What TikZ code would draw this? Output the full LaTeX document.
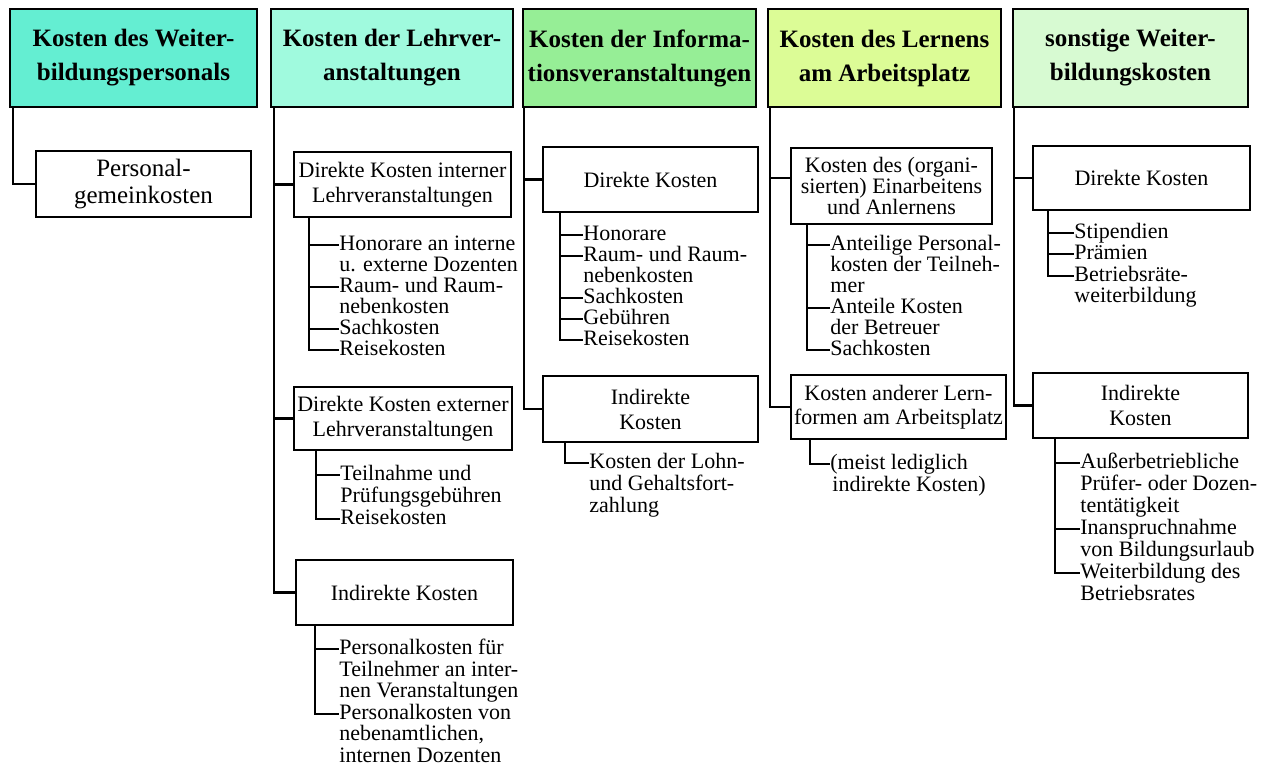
\documentclass[tikz,border=0pt]{standalone}
\usepackage{fontspec}
\setmainfont{Liberation Serif}
\definecolor{hOne}{RGB}{100,238,210}
\definecolor{hTwo}{RGB}{160,250,222}
\definecolor{hThree}{RGB}{150,238,150}
\definecolor{hFour}{RGB}{220,252,150}
\definecolor{hFive}{RGB}{215,250,210}
\newcommand\hdrfont{\fontsize{12.5}{17}\selectfont\bfseries}
\newcommand\boxfont{\fontsize{11}{12.5}\selectfont}
\newcommand\boxfontb{\fontsize{11}{10.5}\selectfont}
\newcommand\itmfont{\fontsize{11}{11}\selectfont}
\newcommand\pfont{\fontsize{12.5}{13.5}\selectfont}
\tikzset{
  hdr/.style={draw, line width=1.2pt, inner sep=0pt, font=\hdrfont, align=center,
              minimum height=49pt},
  box/.style={draw, line width=1.2pt, inner sep=0pt, font=\boxfont, align=center, fill=white},
  itm/.style={inner sep=0pt, anchor=west, font=\itmfont, text height=7.5pt, text depth=2pt},
  ln/.style={line width=1.1pt},
}
\begin{document}
\begin{tikzpicture}[x=0.5pt, y=-0.5pt]
\useasboundingbox (0,0) rectangle (1265,778);
\fill[white] (0,0) rectangle (1265,778);

% ---------- headers ----------
\node[hdr, fill=hOne,   minimum width=123.5pt] (h1) at (133.5,58) {Kosten des Weiter-\\bildungspersonals};
\node[hdr, fill=hTwo,   minimum width=121pt]   (h2) at (392,58)   {Kosten der Lehrver-\\anstaltungen};
\node[hdr, fill=hThree, minimum width=116.5pt] (h3) at (639.5,58) {Kosten der Informa-\\tionsveranstaltungen};
\node[hdr, fill=hFour,  minimum width=116.5pt] (h4) at (884.5,58) {Kosten des Lernens\\am Arbeitsplatz};
\node[hdr, fill=hFive,  minimum width=117.5pt] (h5) at (1130.5,58) {sonstige Weiter-\\bildungskosten};

\coordinate (t1) at (13,0);
\coordinate (t2) at (274,0);
\coordinate (t3) at (524,0);
\coordinate (t4) at (770,0);
\coordinate (t5) at (1014,0);

% ---------- column 1 ----------
\node[box, font=\pfont, minimum width=107.5pt, minimum height=33pt] (b11) at (143.5,184) {Personal-\\gemeinkosten};
\draw[ln] (h1.south -| t1) |- (b11.west);

% ---------- column 2 ----------
\node[box, minimum width=108.5pt, minimum height=32.5pt] (b21) at (402.5,184.5) {Direkte Kosten interner\\Lehrveranstaltungen};
\node[box, minimum width=109pt, minimum height=31.5pt] (b22) at (403,418.5) {Direkte Kosten externer\\Lehrveranstaltungen};
\node[box, minimum width=108.5pt, minimum height=32.5pt] (b23) at (404.5,592.5) {Indirekte Kosten};
\draw[ln] (h2.south -| t2) |- (b23.west);
\draw[ln] (t2 |- b21.west) -- (b21.west);
\draw[ln] (t2 |- b22.west) -- (b22.west);

\node[itm] (i21a) at (339,245) {Honorare an interne};
\node[itm] (i21b) at (339,266) {u. externe Dozenten};
\node[itm] (i21c) at (339,287) {Raum- und Raum-};
\node[itm] (i21d) at (339,308) {nebenkosten};
\node[itm] (i21e) at (339,329) {Sachkosten};
\node[itm] (i21f) at (339,350) {Reisekosten};
\coordinate (s21) at (309,0);
\draw[ln] (b21.south -| s21) |- (i21f.west);
\draw[ln] (s21 |- i21a.west) -- (i21a.west);
\draw[ln] (s21 |- i21c.west) -- (i21c.west);
\draw[ln] (s21 |- i21e.west) -- (i21e.west);

\node[itm] (i22a) at (340,475) {Teilnahme und};
\node[itm] (i22b) at (340,497) {Prüfungsgebühren};
\node[itm] (i22c) at (340,519) {Reisekosten};
\coordinate (s22) at (316,0);
\draw[ln] (b22.south -| s22) |- (i22c.west);
\draw[ln] (s22 |- i22a.west) -- (i22a.west);

\node[itm] (i23a) at (339,649) {Personalkosten für};
\node[itm] (i23b) at (339,671) {Teilnehmer an inter-};
\node[itm] (i23c) at (339,692) {nen Veranstaltungen};
\node[itm] (i23d) at (339,714) {Personalkosten von};
\node[itm] (i23e) at (339,735) {nebenamtlichen,};
\node[itm] (i23f) at (339,757) {internen Dozenten};
\coordinate (s23) at (315,0);
\draw[ln] (b23.south -| s23) |- (i23d.west);
\draw[ln] (s23 |- i23a.west) -- (i23a.west);

% ---------- column 3 ----------
\node[box, minimum width=107.5pt, minimum height=32.5pt] (b31) at (650.5,179.5) {Direkte Kosten};
\node[box, minimum width=107.5pt, minimum height=33pt] (b32) at (650.5,409) {Indirekte\\Kosten};
\draw[ln] (h3.south -| t3) |- (b32.west);
\draw[ln] (t3 |- b31.west) -- (b31.west);

\node[itm] (i31a) at (583,235) {Honorare};
\node[itm] (i31b) at (583,256) {Raum- und Raum-};
\node[itm] (i31c) at (583,277) {nebenkosten};
\node[itm] (i31d) at (583,298) {Sachkosten};
\node[itm] (i31e) at (583,319) {Gebühren};
\node[itm] (i31f) at (583,340) {Reisekosten};
\coordinate (s31) at (560,0);
\draw[ln] (b31.south -| s31) |- (i31f.west);
\draw[ln] (s31 |- i31a.west) -- (i31a.west);
\draw[ln] (s31 |- i31b.west) -- (i31b.west);
\draw[ln] (s31 |- i31d.west) -- (i31d.west);
\draw[ln] (s31 |- i31e.west) -- (i31e.west);

\node[itm] (i32a) at (589,463) {Kosten der Lohn-};
\node[itm] (i32b) at (589,485) {und Gehaltsfort-};
\node[itm] (i32c) at (589,507) {zahlung};
\coordinate (s32) at (565,0);
\draw[ln] (b32.south -| s32) |- (i32a.west);

% ---------- column 4 ----------
\node[box, font=\boxfontb, minimum width=100.5pt, minimum height=38pt] (b41) at (891.5,186) {Kosten des (organi-\\sierten) Einarbeitens\\und Anlernens};
\node[box, font=\fontsize{11}{12}\selectfont, minimum width=107.5pt, minimum height=32pt] (b42) at (898.5,407) {Kosten anderer Lern-\\formen am Arbeitsplatz};
\coordinate (b41c) at ([yshift=4pt]b41.west);
\draw[ln] (h4.south -| t4) |- (b42.west);
\draw[ln] (t4 |- b41c) -- (b41c);

\node[itm] (i41a) at (830,245) {Anteilige Personal-};
\node[itm] (i41b) at (830,266) {kosten der Teilneh-};
\node[itm] (i41c) at (830,287) {mer};
\node[itm] (i41d) at (830,308) {Anteile Kosten};
\node[itm] (i41e) at (830,329) {der Betreuer};
\node[itm] (i41f) at (830,350) {Sachkosten};
\coordinate (s41) at (807,0);
\draw[ln] (b41.south -| s41) |- (i41f.west);
\draw[ln] (s41 |- i41a.west) -- (i41a.west);
\draw[ln] (s41 |- i41d.west) -- (i41d.west);

\node[itm] (i42a) at (830,464) {(meist lediglich};
\node[itm] (i42b) at (832,486) {indirekte Kosten)};
\coordinate (s42) at (810,0);
\draw[ln] (b42.south -| s42) |- (i42a.west);

% ---------- column 5 ----------
\node[box, minimum width=108.5pt, minimum height=32pt] (b51) at (1141.5,178) {Direkte Kosten};
\node[box, minimum width=107.5pt, minimum height=32.5pt] (b52) at (1140.5,405.5) {Indirekte\\Kosten};
\draw[ln] (h5.south -| t5) |- (b52.west);
\draw[ln] (t5 |- b51.west) -- (b51.west);

\node[itm] (i51a) at (1074,233) {Stipendien};
\node[itm] (i51b) at (1074,254) {Prämien};
\node[itm] (i51c) at (1074,276) {Betriebsräte-};
\node[itm] (i51d) at (1074,297) {weiterbildung};
\coordinate (s51) at (1048,0);
\draw[ln] (b51.south -| s51) |- (i51c.west);
\draw[ln] (s51 |- i51a.west) -- (i51a.west);
\draw[ln] (s51 |- i51b.west) -- (i51b.west);

\node[itm] (i52a) at (1080,463) {Außerbetriebliche};
\node[itm] (i52b) at (1080,485) {Prüfer- oder Dozen-};
\node[itm] (i52c) at (1080,507) {tentätigkeit};
\node[itm] (i52d) at (1080,529) {Inanspruchnahme};
\node[itm] (i52e) at (1080,551) {von Bildungsurlaub};
\node[itm] (i52f) at (1080,573) {Weiterbildung des};
\node[itm] (i52g) at (1080,595) {Betriebsrates};
\coordinate (s52) at (1055,0);
\draw[ln] (b52.south -| s52) |- (i52f.west);
\draw[ln] (s52 |- i52a.west) -- (i52a.west);
\draw[ln] (s52 |- i52d.west) -- (i52d.west);
\end{tikzpicture}
\end{document}
